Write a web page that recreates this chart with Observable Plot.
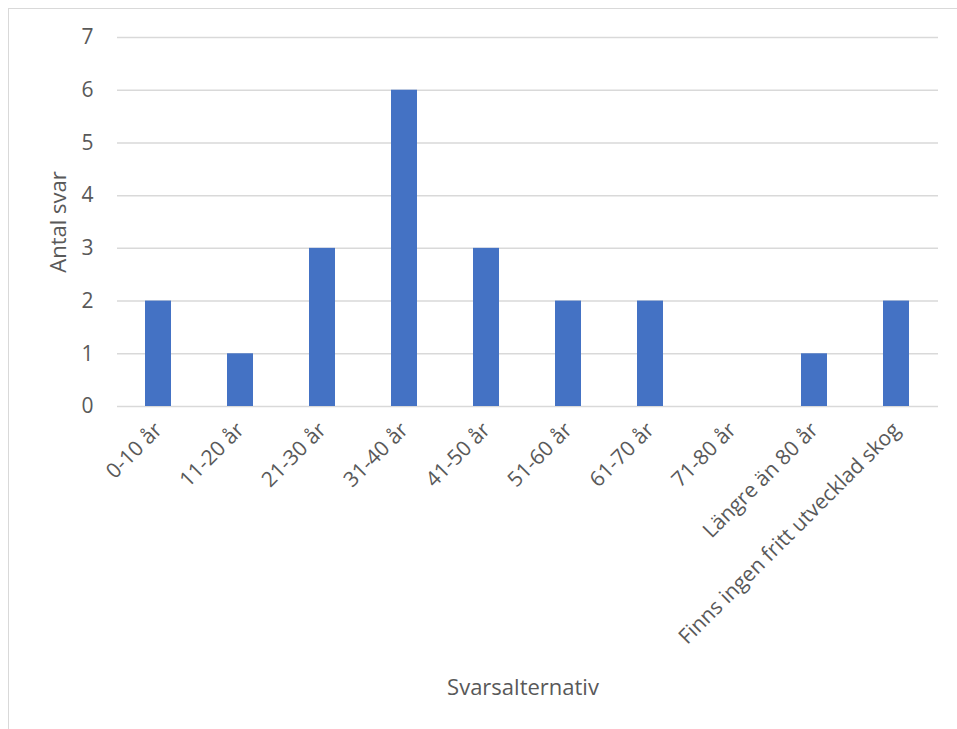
<!DOCTYPE html>
<html>
<head>
<meta charset="utf-8">
<script src="https://cdn.jsdelivr.net/npm/d3@7"></script>
<script src="https://cdn.jsdelivr.net/npm/@observablehq/plot@0.6"></script>
<style>
  html, body { margin: 0; padding: 0; background: #fff; }
  #wrap { position: relative; width: 957px; height: 729px; overflow: hidden; background: #fff; }
  #border { position: absolute; left: 8px; top: 8px; width: 1000px; height: 800px;
            border-top: 1.5px solid #d9d9d9; border-left: 1.5px solid #d9d9d9; }
  #chart { position: absolute; left: 0; top: 0; }
</style>
</head>
<body>
<div id="wrap"><div id="border"></div><div id="chart"></div></div>
<script>
const categories = ["0-10 år", "11-20 år", "21-30 år", "31-40 år", "41-50 år", "51-60 år", "61-70 år", "71-80 år", "Längre än 80 år", "Finns ingen fritt utvecklad skog"];
const values = [2, 1, 3, 6, 3, 2, 2, 0, 1, 2];
const yTicks = [0, 1, 2, 3, 4, 5, 6, 7];
const xTitle = "Svarsalternativ";
const yTitle = "Antal svar";

const data = categories.map((c, i) => ({category: c, value: values[i]}));
const font = "'Open Sans', sans-serif";
const textColor = "#595959";

const chart = Plot.plot({
  width: 957,
  height: 729,
  marginLeft: 117,
  marginRight: 19,
  marginTop: 37,
  marginBottom: 323,
  style: {fontFamily: font, fontSize: "21px", color: textColor, background: "transparent", overflow: "visible"},
  x: {domain: categories, paddingInner: 0.68, paddingOuter: 0.34},
  y: {domain: [0, 7]},
  marks: [
    Plot.gridY(yTicks, {stroke: "#d9d9d9", strokeOpacity: 1, strokeWidth: 1.5}),
    Plot.barY(data, {x: "category", y: "value", fill: "#4472C4"}),
    Plot.axisY({ticks: yTicks, tickFormat: d3.format("d"), tickSize: 0, tickPadding: 24, fontSize: 21, fill: textColor,
      label: yTitle, labelAnchor: "center", labelArrow: "none", labelOffset: 67}),
    Plot.axisX({tickSize: 0, tickRotate: -45, tickPadding: 20, fontSize: 21, fill: textColor,
      label: xTitle, labelAnchor: "center", labelArrow: "none", labelOffset: 288})
  ]
});
d3.select(chart).selectAll('g[aria-label="x-axis label"], g[aria-label="y-axis label"]')
  .attr("font-size", 22).selectAll("text").attr("font-size", 22);
d3.select(chart).selectAll('g[aria-label="x-axis label"]').attr("transform", function() {
  const t = this.getAttribute("transform") || "";
  return t + " translate(-5,0)";
});
document.getElementById("chart").appendChild(chart);
</script>
</body>
</html>
